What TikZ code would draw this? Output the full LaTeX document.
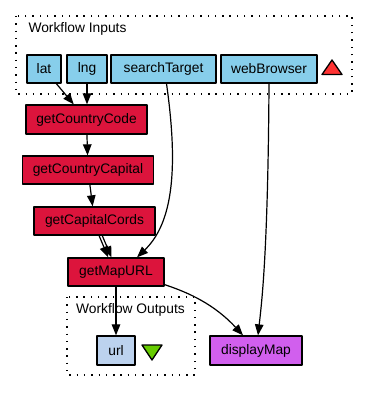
\documentclass[tikz,border=0pt]{standalone}
\usepackage{fontspec}
\setmainfont{Liberation Sans}
\usetikzlibrary{arrows.meta}
\definecolor{inport}{HTML}{87CEEB}
\definecolor{outport}{HTML}{BCD2EE}
\definecolor{proc}{HTML}{DC143C}
\definecolor{viewer}{HTML}{D15FEE}
\definecolor{intri}{HTML}{FF3333}
\definecolor{outtri}{HTML}{66CC00}
\begin{document}
\begin{tikzpicture}[x=1pt, y=-1pt, font=\fontsize{13.8}{15}\selectfont, line join=round, >={Triangle[length=11pt,width=8.5pt]},
    box/.style={draw, line width=1.3pt, minimum height=28pt, inner sep=0pt},
    inp/.style={box, fill=inport},
    outp/.style={box, fill=outport},
    proc/.style={box, fill=proc},
    cluster/.style={line width=1.4pt, dash pattern=on 1.4pt off 5.9pt},
    edge/.style={->, line width=1.2pt}]
    \useasboundingbox (0,0) rectangle (368,403);
    % inputs
    \draw[cluster] (16,16) rectangle (352,94);
    \node[anchor=west] (intitle) at (25,29) {Workflow Inputs};
    \node[inp, minimum width=34pt] (lat) at (44,69) {lat};
    \node[inp, minimum width=40pt] (lng) at (87,69) {lng};
    \node[inp, minimum width=105pt] (searchTarget) at (163.5,69) {searchTarget};
    \node[inp, minimum width=96pt] (webBrowser) at (269,69) {webBrowser};
    \draw[line width=1.3pt, fill=intri] (322,74.5)--(342,74.5)--(332,60)--cycle;
    % processors
    \node[proc, minimum width=121pt, minimum height=29pt] (getCountryCode) at (86.5,119.5) {getCountryCode};
    \node[proc, minimum width=131pt] (getCountryCapital) at (88,170) {getCountryCapital};
    \node[proc, minimum width=121pt] (getCapitalCords) at (94.5,221) {getCapitalCords};
    \node[proc, minimum width=96pt] (getMapURL) at (116,272) {getMapURL};
    \node[box, fill=viewer, minimum width=92pt, minimum height=29pt] (displayMap) at (256,350.5) {displayMap};
    % outputs
    \draw[cluster] (67,297) rectangle (195,375);
    \node (outtitle) at (130.5,310) {Workflow Outputs};
    \node[outp, minimum width=38pt, minimum height=29pt] (url) at (116,350.5) {url};
    \draw[line width=1.3pt, fill=outtri] (142,345)--(162,345)--(152,360)--cycle;
    % links
    \draw[edge] (lat) -- (getCountryCode);
    \draw[edge] (lng) -- (lng |- getCountryCode.north);
    \draw[edge] (getCountryCode) -- (getCountryCapital);
    \draw[edge] (getCountryCapital) -- (getCapitalCords);
    \draw[edge, transform canvas={xshift=-1.6pt}] (getCapitalCords) -- (getMapURL);
    \draw[edge, transform canvas={xshift=1.6pt}] (getCapitalCords) -- (getMapURL);
    \draw[edge] ([xshift=3pt]searchTarget.south) .. controls (178,165) and (174,222) .. ([xshift=21pt]getMapURL.north);
    \draw[edge] (webBrowser.south) .. controls (268,250) and (262,300) .. ([xshift=2pt]displayMap.north);
    \draw[edge] (getMapURL) -- (url);
    \draw[edge] ([yshift=2pt]getMapURL.south east) .. controls (190,293) and (215,305) .. ([xshift=-13pt]displayMap.north);
\end{tikzpicture}
\end{document}
